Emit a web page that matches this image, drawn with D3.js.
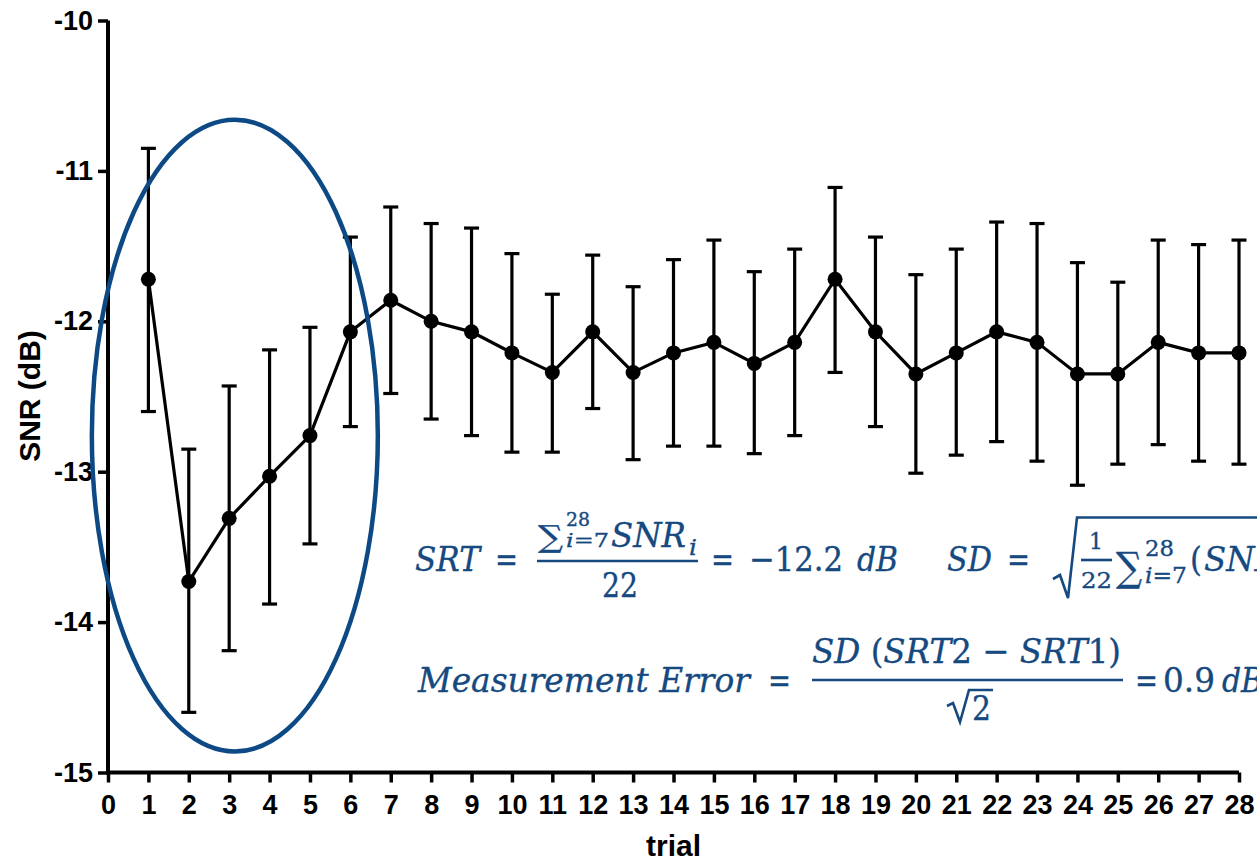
<!DOCTYPE html>
<html>
<head>
<meta charset="utf-8">
<script src="https://cdn.jsdelivr.net/npm/d3@7"></script>
<style>
  html, body { margin: 0; padding: 0; background: #fff; }
  svg { display: block; }
</style>
</head>
<body>
<svg width="1257" height="864"></svg>
<script>
// trial number, mean SNR and the ends of the error bars (dB)
var trials = [1, 2, 3, 4, 5, 6, 7, 8, 9, 10, 11, 12, 13, 14, 15, 16, 17, 18, 19, 20, 21, 22, 23, 24, 25, 26, 27, 28];
var snr = [-11.72, -13.73, -13.31, -13.03, -12.76, -12.07, -11.86, -12.00, -12.07, -12.21, -12.34, -12.07, -12.34, -12.21,
           -12.14, -12.28, -12.14, -11.72, -12.07, -12.35, -12.21, -12.07, -12.14, -12.35, -12.35, -12.14, -12.21, -12.21];
var upper = [-10.85, -12.85, -12.43, -12.19, -12.04, -11.44, -11.24, -11.35, -11.38, -11.55, -11.82, -11.56, -11.77, -11.59,
             -11.46, -11.67, -11.52, -11.11, -11.44, -11.69, -11.52, -11.34, -11.35, -11.61, -11.74, -11.46, -11.49, -11.46];
var lower = [-12.60, -14.60, -14.19, -13.88, -13.48, -12.70, -12.48, -12.65, -12.76, -12.87, -12.87, -12.58, -12.92, -12.83,
             -12.83, -12.88, -12.76, -12.34, -12.70, -13.01, -12.89, -12.80, -12.93, -13.09, -12.95, -12.82, -12.93, -12.95];
var xTicks = [0, 1, 2, 3, 4, 5, 6, 7, 8, 9, 10, 11, 12, 13, 14, 15, 16, 17, 18, 19, 20, 21, 22, 23, 24, 25, 26, 27, 28];
var yTicks = [-10, -11, -12, -13, -14, -15];
// the oval round the first trials, in data units
var oval = { trial: 3.14, snr: -12.76, trialRadius: 3.54, snrRadius: 2.1 };

var data = trials.map(function (t, i) {
    return { trial: t, snr: snr[i], hi: upper[i], lo: lower[i] };
});

var svg = d3.select("svg");
var blue = "#15497f";

var x = d3.scaleLinear().domain([0, 28]).range([108, 1239]);
var y = d3.scaleLinear().domain([-15, -10]).range([772.5, 20.5]);

// axes
var xAxis = svg.append("g")
    .attr("transform", "translate(0,772.5)")
    .call(d3.axisBottom(x).tickValues(xTicks).tickFormat(d3.format("d")).tickSizeInner(10).tickSizeOuter(0).tickPadding(12));
var yAxis = svg.append("g")
    .attr("transform", "translate(108,0)")
    .call(d3.axisLeft(y).tickValues(yTicks).tickFormat(function (d) { return "-" + Math.abs(d); })
        .tickSizeInner(10).tickSizeOuter(0).tickPadding(5));

[xAxis, yAxis].forEach(function (a) {
    a.attr("font-size", null);
    a.select(".domain").attr("stroke", "#000").attr("stroke-width", 4);
    a.selectAll(".tick line").attr("stroke", "#000").attr("stroke-width", 3.5);
    a.selectAll(".tick text")
        .attr("fill", "#000")
        .style("font-family", "'Liberation Sans', Arial, sans-serif")
        .style("font-weight", "bold")
        .style("font-size", "27px");
});
xAxis.select(".domain").attr("d", "M" + (x(0) - 2) + ",0H" + x(28));
yAxis.select(".domain").attr("d", "M0," + y(-10) + "V" + (y(-15) + 2));

svg.append("text")
    .attr("x", x(14))
    .attr("y", 856)
    .attr("text-anchor", "middle")
    .style("font-family", "'Liberation Sans', Arial, sans-serif")
    .style("font-weight", "bold")
    .style("font-size", "30px")
    .text("trial");

svg.append("text")
    .attr("transform", "translate(40," + 396 + ") rotate(-90)")
    .attr("text-anchor", "middle")
    .style("font-family", "'Liberation Sans', Arial, sans-serif")
    .style("font-weight", "bold")
    .style("font-size", "30px")
    .text("SNR (dB)");

// error bars
var bars = svg.append("g").attr("stroke", "#000").attr("stroke-width", 3.2);
bars.selectAll(".stem").data(data).enter().append("line")
    .attr("x1", function (d) { return x(d.trial); })
    .attr("x2", function (d) { return x(d.trial); })
    .attr("y1", function (d) { return y(d.hi); })
    .attr("y2", function (d) { return y(d.lo); });
bars.selectAll(".capHi").data(data).enter().append("line")
    .attr("x1", function (d) { return x(d.trial) - 7.5; })
    .attr("x2", function (d) { return x(d.trial) + 7.5; })
    .attr("y1", function (d) { return y(d.hi); })
    .attr("y2", function (d) { return y(d.hi); });
bars.selectAll(".capLo").data(data).enter().append("line")
    .attr("x1", function (d) { return x(d.trial) - 7.5; })
    .attr("x2", function (d) { return x(d.trial) + 7.5; })
    .attr("y1", function (d) { return y(d.lo); })
    .attr("y2", function (d) { return y(d.lo); });

// mean line and points
svg.append("path")
    .datum(data)
    .attr("fill", "none")
    .attr("stroke", "#000")
    .attr("stroke-width", 3.2)
    .attr("d", d3.line().x(function (d) { return x(d.trial); }).y(function (d) { return y(d.snr); }));

svg.selectAll(".dot").data(data).enter().append("circle")
    .attr("cx", function (d) { return x(d.trial); })
    .attr("cy", function (d) { return y(d.snr); })
    .attr("r", 7.5)
    .attr("fill", "#000");

// oval
svg.append("ellipse")
    .attr("cx", x(oval.trial))
    .attr("cy", y(oval.snr))
    .attr("rx", x(oval.trialRadius) - x(0))
    .attr("ry", y(-10 - oval.snrRadius) - y(-10))
    .attr("fill", "none")
    .attr("stroke", "#0d4a85")
    .attr("stroke-width", 4.5);

// formulas
var fm = svg.append("g").attr("fill", blue)
    .attr("stroke", blue).attr("stroke-width", 0.35)
    .style("font-family", "'DejaVu Serif', 'Liberation Serif', serif");

function piece(str, px, py, size, italic, width) {
    var t = fm.append("text")
        .attr("x", px)
        .attr("y", py)
        .style("font-size", size + "px")
        .style("font-style", italic ? "italic" : "normal")
        .text(str);
    if (width) t.attr("textLength", width).attr("lengthAdjust", "spacingAndGlyphs");
    return t;
}
function rule(x1, x2, py) {
    fm.append("line").attr("x1", x1).attr("x2", x2).attr("y1", py).attr("y2", py)
        .attr("stroke", blue).attr("stroke-width", 2.6);
}
function limits(px, py, size, width) {
    fm.append("text").attr("x", px).attr("y", py).style("font-size", size + "px")
        .attr("textLength", width).attr("lengthAdjust", "spacingAndGlyphs")
        .call(function (t) {
            t.append("tspan").style("font-style", "italic").text("i");
            t.append("tspan").text("=7");
        });
}

// SRT = sum / 22 = -12.2 dB
piece("SRT", 415, 571, 34, true, 65);
piece("=", 495, 571, 34, false, 23);
piece("\u2211", 538, 547, 30, false, 25);
piece("28", 566, 526, 19, false, 24);
limits(566, 547, 19, 43);
piece("SNR", 611, 547, 34, true, 75);
piece("i", 689, 555, 22, true, 8);
rule(537, 698, 561);
piece("22", 602, 597, 34, false, 36);
piece("=", 711, 571, 34, false, 23);
piece("\u221212.2", 749, 571, 34, false, 94);
piece("dB", 857, 571, 34, true, 41);

// SD = sqrt(1/22 sum (SNR ...
piece("SD", 947, 571, 34, true, 45);
piece("=", 1007, 571, 34, false, 23);
fm.append("path")
    .attr("d", "M1053,579L1060,575L1068,598L1077,517.5H1257")
    .attr("fill", "none")
    .attr("stroke", blue)
    .attr("stroke-width", 2.6)
    .attr("stroke-linejoin", "miter");
piece("1", 1096, 549, 22, false).attr("text-anchor", "middle");
rule(1081, 1112, 560);
piece("22", 1081, 588, 22, false, 31);
piece("\u2211", 1116, 581, 40, false, 26);
piece("28", 1145, 556, 22, false, 29);
limits(1145, 583, 22, 42);
piece("(", 1190, 571, 34, false, 12);
piece("SNR", 1204, 571, 34, true, 75);

// Measurement Error = SD (SRT2 - SRT1) / sqrt2 = 0.9 dB
piece("Measurement Error", 418, 692, 34, true, 332);
piece("=", 768, 692, 34, false, 23);
fm.append("text").attr("x", 812).attr("y", 663).style("font-size", "34px")
    .attr("textLength", 309).attr("lengthAdjust", "spacingAndGlyphs")
    .call(function (t) {
        t.append("tspan").style("font-style", "italic").text("SD");
        t.append("tspan").text(" (");
        t.append("tspan").style("font-style", "italic").text("SRT");
        t.append("tspan").text("2  \u2212 ");
        t.append("tspan").style("font-style", "italic").text("SRT");
        t.append("tspan").text("1)");
    });
rule(812, 1123, 680);
fm.append("path")
    .attr("d", "M947,706L953,703L960,722L969,690H993")
    .attr("fill", "none")
    .attr("stroke", blue)
    .attr("stroke-width", 2.6);
piece("2", 972, 720, 34, false, 19);
piece("=", 1135, 692, 34, false, 23);
piece("0.9", 1163, 692, 34, false, 52);
piece("dB", 1222, 692, 34, true, 41);
</script>
</body>
</html>
